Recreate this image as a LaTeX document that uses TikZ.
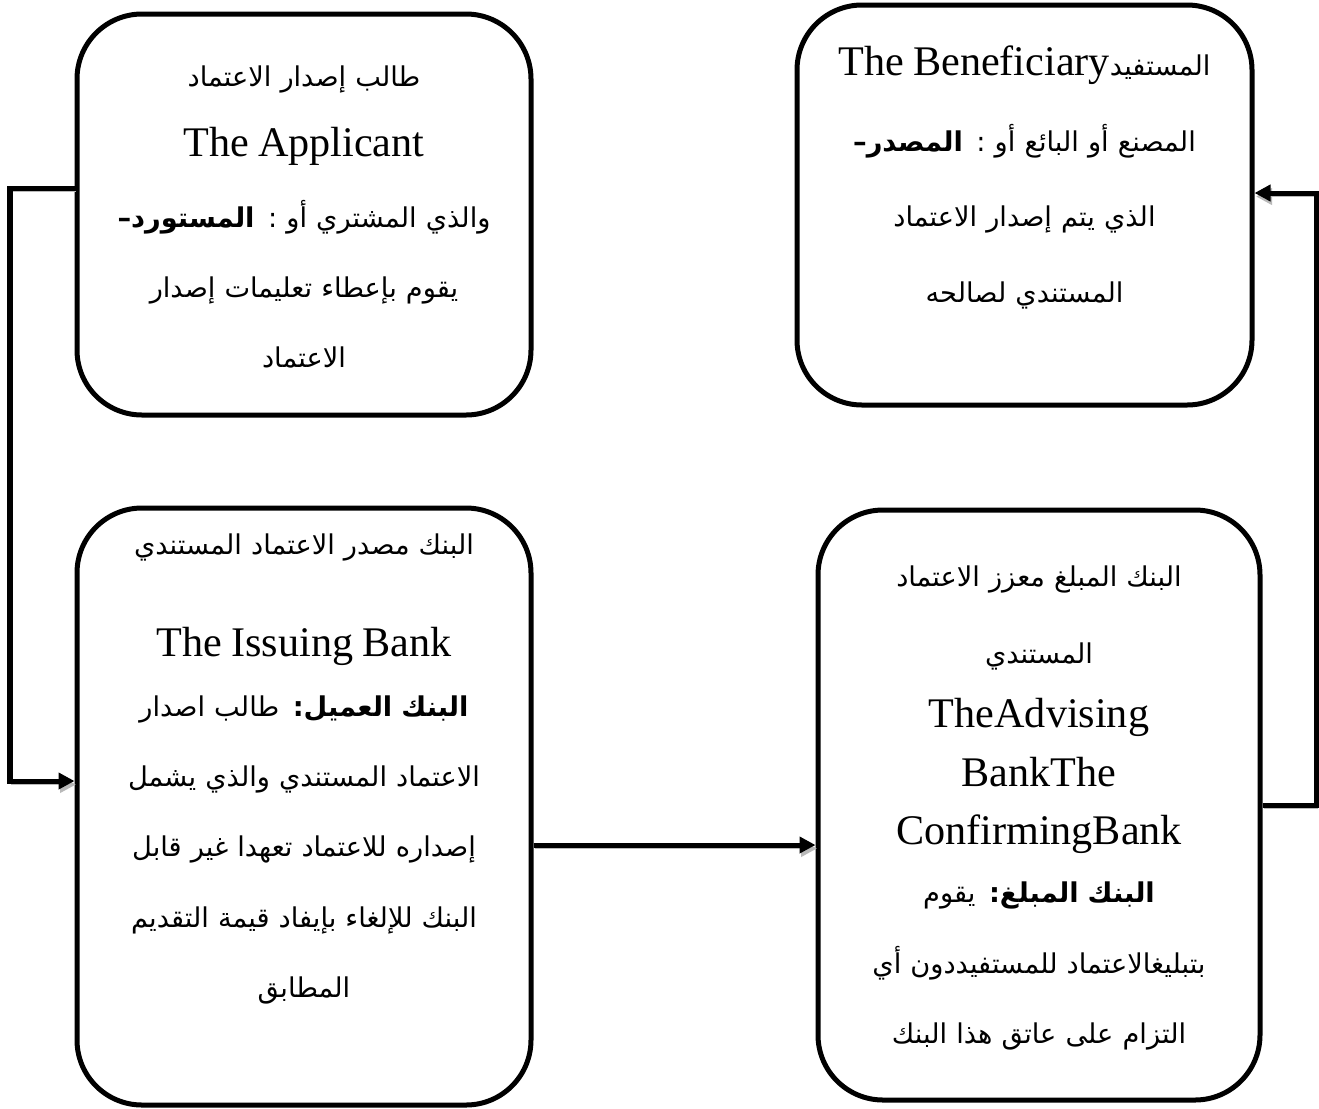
\documentclass[tikz,border=0pt]{standalone}
\usepackage{fontspec}
\usepackage{tikz}
\usetikzlibrary{arrows.meta}
\setmainfont{Liberation Serif}
\newfontfamily\arabicfont[Script=Arabic]{DejaVu Sans}
\TeXXeTstate=1
\newcommand{\engtext}[1]{{\rmfamily\fontsize{24}{28}\selectfont #1}}

\begin{document}
\begin{tikzpicture}
	\tikzstyle{card} = [draw, line width=0.1cm, rounded corners=1.3cm, inner sep=0pt]
	\tikzstyle{words} = [align=center, font=\arabicfont\fontsize{15.5}{40}\selectfont]
	\tikzstyle{link} = [line width=0.1cm, -{Triangle[length=0.32cm, width=0.32cm]}, preaction={draw=gray!55, transform canvas={shift={(0.03cm,-0.07cm)}}}]
	\useasboundingbox (0,0) rectangle (26.38,-22.16);
	% the four parties
	\node[card, minimum width=9.08cm, minimum height=8.02cm] (applicant) at (6.08,-4.29) {};
	\node[card, minimum width=9.10cm, minimum height=8.00cm] (beneficiary) at (20.49,-4.10) {};
	\node[card, minimum width=9.08cm, minimum height=11.94cm] (issuing) at (6.08,-16.13) {};
	\node[card, minimum width=8.84cm, minimum height=11.80cm] (advising) at (20.78,-16.10) {};
	\node[words, text width=8.6cm] (applicant-text) at (6.08,-4.34) {
		\beginR طالب إصدار الاعتماد\endR\\
		\engtext{The Applicant}\\
		\beginR والذي المشتري أو : {\bfseries المستورد}\kern0pt{\bfseries –}\endR\\
		\beginR يقوم بإعطاء تعليمات إصدار\endR\\
		\beginR الاعتماد\endR};
	\node[words, text width=8.6cm] (beneficiary-text) at (20.49,-3.55) {
		\engtext{The Beneficiary}المستفيد\\[3pt]
		\beginR المصنع أو البائع أو : {\bfseries المصدر}\kern0pt{\bfseries –}\endR\\[3pt]
		\beginR الذي يتم إصدار الاعتماد\endR\\[3pt]
		\beginR المستندي لصالحه\endR};
	\node[words, text width=8.6cm] (issuing-text) at (6.08,-15.38) {
		\beginR البنك مصدر الاعتماد المستندي\endR\\[18pt]
		\engtext{The Issuing Bank}\\[-6pt]
		\beginR{\bfseries البنك العميل:} طالب اصدار\endR\\
		\beginR الاعتماد المستندي والذي يشمل\endR\\
		\beginR إصداره للاعتماد تعهدا غير قابل\endR\\
		\beginR البنك للإلغاء بإيفاد قيمة التقديم\endR\\
		\beginR المطابق\endR};
	\node[words, text width=8.4cm] (advising-text) at (20.78,-16.16) {
		\beginR البنك المبلغ معزز الاعتماد\endR\\[4pt]
		\beginR المستندي\endR\\[-4pt]
		\engtext{TheAdvising}\\[-6pt]
		\engtext{BankThe}\\[-7pt]
		\engtext{ConfirmingBank}\\[-7pt]
		\beginR{\bfseries البنك المبلغ:} يقوم\endR\\
		\beginR بتبليغالاعتماد للمستفيددون أي\endR\\
		\beginR التزام على عاتق هذا البنك\endR};
	% connectors
	\coordinate (leftrail) at (0.2,-10);
	\coordinate (rightrail) at (26.32,-10);
	\coordinate (mid) at ([yshift=-0.77cm]issuing.east);
	\draw[link] ([yshift=0.53cm]applicant.west) -| (leftrail) |- ([yshift=0.51cm]issuing.west);
	\draw[link] (mid) -- (mid -| advising.west);
	\draw[link] (advising.east) -| (rightrail) |- ([yshift=0.24cm]beneficiary.east);
\end{tikzpicture}
\end{document}
